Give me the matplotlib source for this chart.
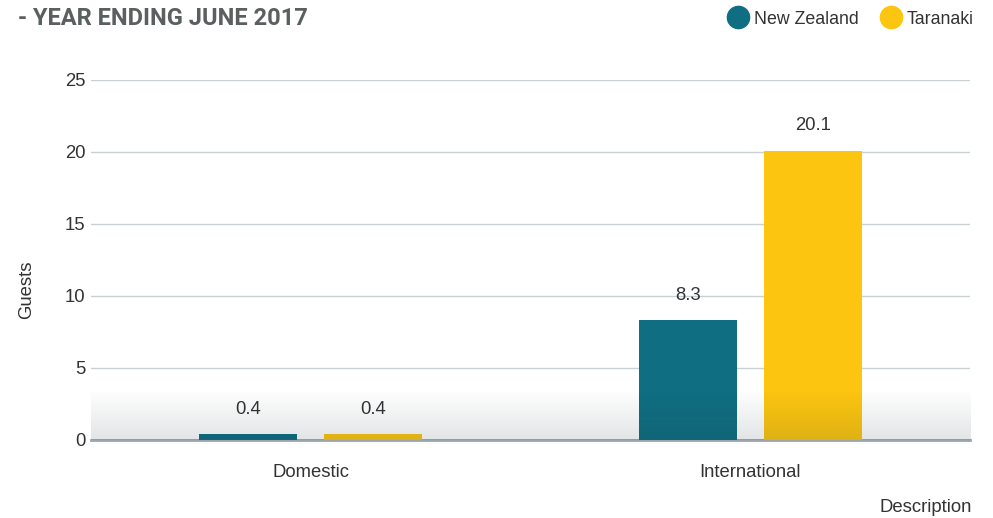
import numpy as np
import matplotlib.pyplot as plt
from matplotlib.lines import Line2D

plt.rcParams['font.family'] = ['Liberation Sans', 'DejaVu Sans']

# Data
categories = ['Domestic', 'International']
series_names = ['New Zealand', 'Taranaki']
new_zealand = [0.4, 8.3]
taranaki = [0.4, 20.1]
yticks = [0, 5, 10, 15, 20, 25]

colors = ['#0f6e82', '#fcc50f']
text_col = '#333333'
fs = 13.3

fig = plt.figure(figsize=(9.93, 5.18), dpi=100)
ax = fig.add_axes([0.0916, 0.1506, 0.8855, 0.695])

x = np.arange(len(categories))
width = 0.223
offset = 0.142
for vals, off, col in [(new_zealand, -offset, colors[0]), (taranaki, offset, colors[1])]:
    bars = ax.bar(x + off, vals, width, color=col, zorder=3)
    for b, v in zip(bars, vals):
        ax.annotate(f'{v}', (b.get_x() + b.get_width() / 2, v), xytext=(0, 12),
                    textcoords='offset points', ha='center', va='bottom',
                    fontsize=fs, color=text_col)

ax.set_yticks(yticks)
ax.set_xticks(x)
ax.set_xticklabels(categories)
ax.tick_params(axis='both', length=0, labelsize=fs, colors=text_col)
ax.tick_params(axis='x', pad=17)
ax.tick_params(axis='y', pad=4)
ax.grid(axis='y', color='#c9d1d5', linewidth=1, zorder=0)
for s in ['top', 'right', 'left']:
    ax.spines[s].set_visible(False)
ax.spines['bottom'].set_color('#9aa6ab')
ax.spines['bottom'].set_linewidth(2)

# soft shading band at the bottom of the plot
grad = np.zeros((100, 2, 4))
grad[..., 0] = 0.12
grad[..., 1] = 0.18
grad[..., 2] = 0.22
grad[..., 3] = np.linspace(0, 0.13, 100)[:, None]
ax.imshow(grad, extent=(-0.5, 1.5, 0, 3.5), origin='upper', aspect='auto',
          zorder=4, interpolation='bilinear')
ax.set_xlim(-0.5, 1.5)
ax.set_ylim(0, 25)

fig.text(0.027, 1 - 290 / 518, 'Guests', rotation=90, ha='center', va='center',
         fontsize=fs, color=text_col)
fig.text(0.979, 0.004, 'Description', ha='right', va='bottom', fontsize=fs, color=text_col)

fig.text(0.018, 0.965, '- YEAR ENDING JUNE 2017', ha='left', va='center',
         fontsize=17, fontweight='bold', color='#5a5f60',
         family=['Roboto', 'Liberation Sans'])

handles = [Line2D([], [], marker='o', linestyle='none', markersize=16,
                  markerfacecolor=c, markeredgecolor=c) for c in colors]
fig.legend(handles, series_names, loc='center right', bbox_to_anchor=(0.997, 0.963),
           ncol=2, frameon=False, fontsize=12.8, handlelength=1.2, handletextpad=0.3,
           columnspacing=1.2, labelcolor=text_col)

fig.savefig('out.png', dpi=100)
